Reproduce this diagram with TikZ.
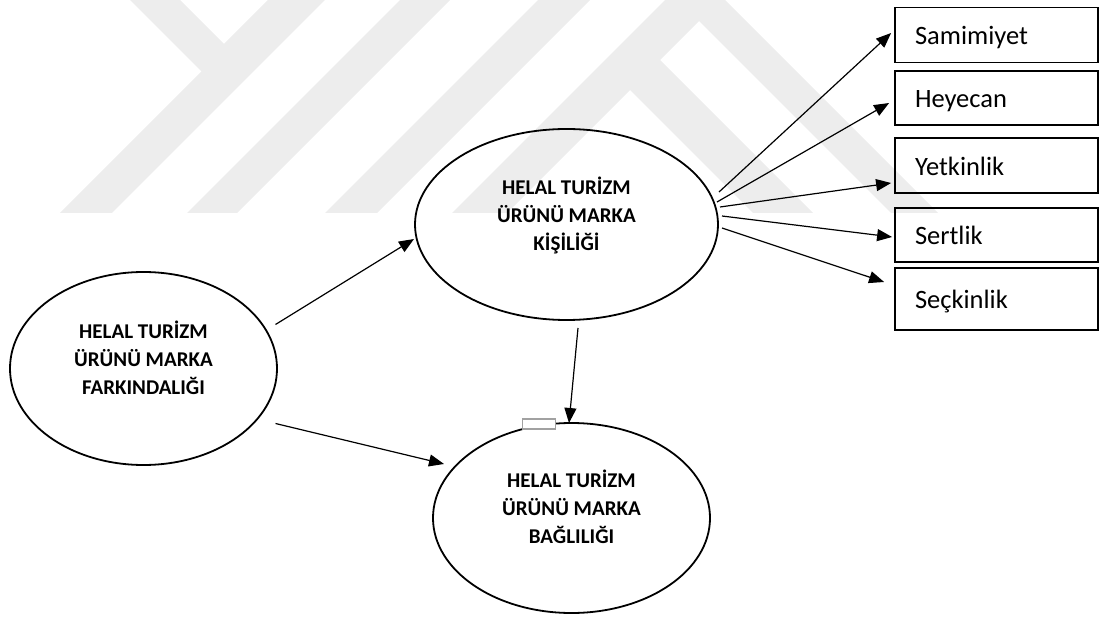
\documentclass[tikz,border=0pt]{standalone}
\usepackage{fontspec}
\setmainfont{Carlito}
\usetikzlibrary{arrows.meta,shapes.geometric}
\begin{document}
\begin{tikzpicture}[x=1pt,y=-1pt,
  iz/.style={fill=black!7, draw=none},
  oval/.style={draw=black, line width=1.8pt, ellipse, inner sep=0pt},
  ovaltext/.style={align=center, inner sep=0pt,
    font=\fontsize{21}{28}\selectfont\bfseries},
  kutu/.style={draw=black, line width=1.8pt, rectangle, minimum width=203pt,
    text width=163pt, inner xsep=20pt, inner ysep=0pt, align=left,
    text height=20pt, text depth=0pt, font=\fontsize{26.5}{30}\selectfont},
  ok/.style={line width=1.2pt, -{Triangle[length=15pt,width=12pt]}},
  tutamak/.style={draw=black!37, line width=1.8pt, fill=white, inner sep=0pt,
    minimum width=33pt, minimum height=10pt}
]
\useasboundingbox (0,0) rectangle (1100,617);

% faint logo in the background
\fill[iz] (130,0) -- (180,0) -- (224,44) -- (268,0) -- (325,0) -- (112,213)
  -- (60,213) -- (201.5,71.5) -- cycle;
\fill[iz] (187,213) -- (400,0) -- (450,0) -- (237,213) -- cycle;
\fill[iz] (325,213) -- (538,0) -- (590,0) -- (377,213) -- cycle;
\fill[iz] (452,213) -- (665,0) -- (725,0) -- (938,213) -- (891,213)
  -- (699,21) -- (660,60) -- (813,213) -- (753,213) -- (630,90)
  -- (507,213) -- cycle;

% constructs
\node[oval, minimum width=267pt, minimum height=193pt] (fark) at (143.5,368.5) {};
\node[ovaltext] (farkT) at ([shift={(0,-10.5)}]fark.center)
  {HELAL TURİZM\\ÜRÜNÜ MARKA\\FARKINDALIĞI};

\node[oval, minimum width=303pt, minimum height=191pt] (kisilik) at (566.5,224.5) {};
\node[ovaltext] (kisilikT) at ([shift={(0,-9)}]kisilik.center)
  {HELAL TURİZM\\ÜRÜNÜ MARKA\\KİŞİLİĞİ};

\node[oval, minimum width=277pt, minimum height=190pt] (bag) at (571.5,518) {};
\node[ovaltext] (bagT) at ([shift={(0,-11.5)}]bag.center)
  {HELAL TURİZM\\ÜRÜNÜ MARKA\\BAĞLILIĞI};

% personality dimensions
\node[kutu, minimum height=55pt] (samimiyet) at (996.5,35) {Samimiyet};
\node[kutu, minimum height=54pt] (heyecan) at (996.5,98) {Heyecan};
\node[kutu, minimum height=55pt] (yetkinlik) at (996.5,165.5) {Yetkinlik};
\node[kutu, minimum height=54pt] (sertlik) at (996.5,235) {Sertlik};
\node[kutu, minimum height=62pt] (seckinlik) at (996.5,299) {Seçkinlik};

% small handle on the lower ellipse
\node[tutamak] (tutamak) at (539,424) {};

% paths
\draw[ok] ([shift={(132,-44)}]fark.center) -- ([shift={(-152.5,14.5)}]kisilik.center);
\draw[ok] ([shift={(132,55)}]fark.center) -- ([shift={(-127.5,-54)}]bag.center);
\draw[ok] ([shift={(11.5,103.5)}]kisilik.center) -- ([shift={(-2.5,-95)}]bag.center);

\draw[ok] ([shift={(152.5,-32.5)}]kisilik.center) -- ([shift={(-3,-2)}]samimiyet.west);
\draw[ok] ([shift={(150.5,-22.5)}]kisilik.center) -- ([shift={(-5,5)}]heyecan.west);
\draw[ok] ([shift={(153.5,-17.5)}]kisilik.center) -- ([shift={(-3,17.5)}]yetkinlik.west);
\draw[ok] ([shift={(155.5,-8.5)}]kisilik.center) -- ([shift={(-2,2)}]sertlik.west);
\draw[ok] ([shift={(155.5,3.5)}]kisilik.center) -- ([shift={(-10,-17)}]seckinlik.west);
\end{tikzpicture}
\end{document}
